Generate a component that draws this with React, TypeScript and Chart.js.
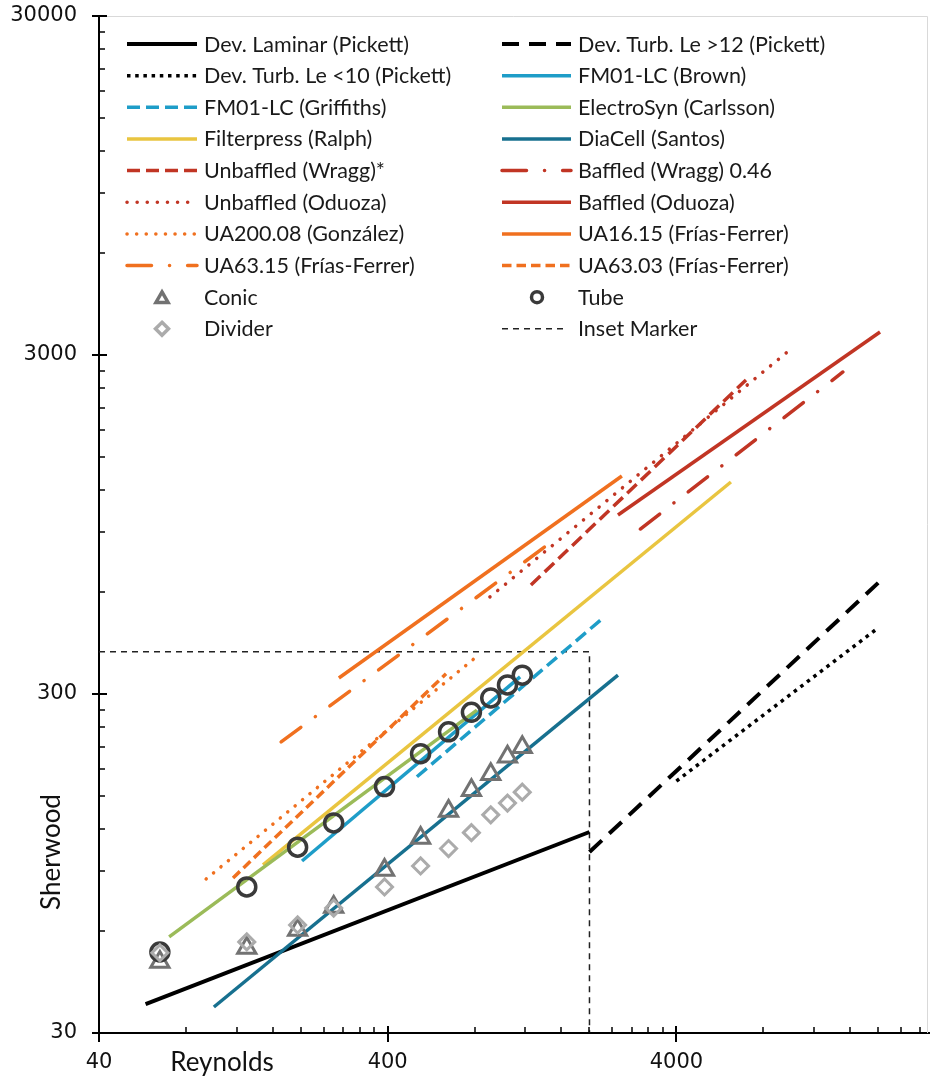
import React, { useEffect, useRef } from 'react';
import { Chart, registerables } from 'chart.js';

Chart.register(...registerables);

// ---------- axis ticks ----------
const xTickValues = [40, 400, 4000];
const yTickValues = [30, 300, 3000, 30000];
const xMin = 40;
const xMax = 30000;
const yMin = 30;
const yMax = 30000;

// ---------- correlation lines (Reynolds, Sherwood) ----------
const reDevLaminar = [58, 2000];
const shDevLaminar = [36.5, 117.5];
const reDevTurbLe12 = [2000, 20000];
const shDevTurbLe12 = [102.6, 638];
const reDevTurbLe10 = [4000, 20000];
const shDevTurbLe10 = [166, 470];
const reFm01Brown = [202, 1150];
const shFm01Brown = [96.5, 337];
const reFm01Griffiths = [505, 2230];
const shFm01Griffiths = [171, 503];
const reElectroSyn = [70, 815];
const shElectroSyn = [57.6, 269];
const reFilterpress = [148, 6180];
const shFilterpress = [94, 1266];
const reDiaCell = [100, 2510];
const shDiaCell = [35.8, 341];
const reUnbaffledWragg = [1254, 6970];
const shUnbaffledWragg = [629, 2532];
const reBaffledWragg = [3000, 15100];
const shBaffledWragg = [920, 2673];
const reUnbaffledOduoza = [904, 9980];
const shUnbaffledOduoza = [580, 3126];
const reBaffledOduoza = [2510, 20300];
const shBaffledOduoza = [1012, 3507];
const reUA200_08 = [94, 802];
const shUA200_08 = [85.4, 383];
const reUA16_15 = [271, 2590];
const shUA16_15 = [334.5, 1319];
const reUA63_15 = [171, 1414];
const shUA63_15 = [216.6, 820];
const reUA63_03 = [116.5, 637];
const shUA63_03 = [86, 344];

// ---------- measured points ----------
const markerRe = [65, 130, 195, 260, 390, 520, 650, 780, 910, 1040, 1170];
const conicSh = [48.6, 53.4, 60.4, 70.6, 90.7, 112.8, 135.5, 156, 174, 196, 209];
const tubeSh = [52, 80.9, 106, 125, 160, 200, 232, 265, 292, 319, 341];
const dividerSh = [51.7, 55.7, 62.5, 70.1, 80.9, 93.3, 105, 117, 132, 143, 154];

// ---------- inset marker ----------
const insetRe = [40, 2000, 2000];
const insetSh = [400, 400, 30];

// ---------- colours ----------
const BLACK = '#000000';
const LIGHT_BLUE = '#1e9dc8';
const GREEN = '#9bbb59';
const YELLOW = '#e9c540';
const TEAL = '#17708f';
const RED = '#c13524';
const ORANGE = '#f0701f';
const CONIC = '#727272';
const TUBE = '#3a3a3a';
const DIVIDER = '#ababab';

const FONT = 'Lato, "Noto Sans", sans-serif';
const TICK_FONT = '"DejaVu Sans", sans-serif';

const pts = (re: number[], sh: number[]) => re.map((x, i) => ({ x, y: sh[i] }));

function lineDs(label: string, re: number[], sh: number[], color: string, width: number, dash: number[], cap: string, order: number) {
  return {
    label,
    data: pts(re, sh),
    showLine: true,
    borderColor: color,
    backgroundColor: color,
    borderWidth: width,
    borderDash: dash,
    borderCapStyle: cap,
    pointRadius: 0,
    pointHoverRadius: 0,
    order,
  };
}

function markerDs(label: string, sh: number[], color: string, style: string, radius: number, width: number, order: number, legendRadius: number) {
  return {
    label,
    data: pts(markerRe, sh),
    showLine: false,
    pointStyle: style,
    pointRadius: radius,
    pointHoverRadius: radius,
    pointBorderWidth: width,
    pointBorderColor: color,
    pointBackgroundColor: 'rgba(0,0,0,0)',
    borderColor: color,
    backgroundColor: 'rgba(0,0,0,0)',
    legendRadius,
    order,
  };
}

const DASH_DOT = [24.5, 18, 0.1, 18];

// datasets in legend (row-major, 2 columns) order
const datasets: any[] = [
  lineDs('Dev. Laminar (Pickett)', reDevLaminar, shDevLaminar, BLACK, 4, [], 'butt', 20),
  lineDs('Dev. Turb. Le >12 (Pickett)', reDevTurbLe12, shDevTurbLe12, BLACK, 4, [17, 10], 'butt', 20),
  lineDs('Dev. Turb. Le <10 (Pickett)', reDevTurbLe10, shDevTurbLe10, BLACK, 3.5, [3.5, 4.7], 'butt', 20),
  lineDs('FM01-LC (Brown)', reFm01Brown, shFm01Brown, LIGHT_BLUE, 3.5, [], 'butt', 12),
  lineDs('FM01-LC (Griffiths)', reFm01Griffiths, shFm01Griffiths, LIGHT_BLUE, 3.5, [13, 6], 'butt', 12),
  lineDs('ElectroSyn (Carlsson)', reElectroSyn, shElectroSyn, GREEN, 3.5, [], 'butt', 11),
  lineDs('Filterpress (Ralph)', reFilterpress, shFilterpress, YELLOW, 3.5, [], 'butt', 13),
  lineDs('DiaCell (Santos)', reDiaCell, shDiaCell, TEAL, 3.5, [], 'butt', 14),
  lineDs('Unbaffled (Wragg)*', reUnbaffledWragg, shUnbaffledWragg, RED, 3.5, [13, 6], 'butt', 15),
  lineDs('Baffled (Wragg) 0.46', reBaffledWragg, shBaffledWragg, RED, 3.5, DASH_DOT, 'round', 15),
  lineDs('Unbaffled (Oduoza)', reUnbaffledOduoza, shUnbaffledOduoza, RED, 3.5, [0.1, 10], 'round', 15),
  lineDs('Baffled (Oduoza)', reBaffledOduoza, shBaffledOduoza, RED, 3.5, [], 'butt', 15),
  lineDs('UA200.08 (González)', reUA200_08, shUA200_08, ORANGE, 3.5, [0.1, 9.5], 'round', 16),
  lineDs('UA16.15 (Frías-Ferrer)', reUA16_15, shUA16_15, ORANGE, 3.5, [], 'butt', 16),
  lineDs('UA63.15 (Frías-Ferrer)', reUA63_15, shUA63_15, ORANGE, 3.5, DASH_DOT, 'round', 16),
  lineDs('UA63.03 (Frías-Ferrer)', reUA63_03, shUA63_03, ORANGE, 3.5, [9.5, 5], 'butt', 16),
  markerDs('Conic', conicSh, CONIC, 'triangle', 10.5, 3, 3, 7),
  markerDs('Tube', tubeSh, TUBE, 'circle', 9, 3.5, 2, 5.5),
  markerDs('Divider', dividerSh, DIVIDER, 'rectRot', 8, 3, 1, 6.5),
  lineDs('Inset Marker', insetRe, insetSh, '#222222', 1.5, [6, 5], 'butt', 30),
];

// legend layout
const legendCols = [
  { x0: 127, x1: 197, tx: 204, mx: 162 },
  { x0: 502, x1: 571, tx: 578, mx: 537 },
];
const legendRow0 = 44;
const legendRowGap = 31.65;

function drawLegendMarker(ctx: CanvasRenderingContext2D, ds: any, cx: number, cy: number) {
  const r = ds.legendRadius;
  ctx.save();
  ctx.strokeStyle = ds.pointBorderColor;
  ctx.lineWidth = 3.5;
  ctx.beginPath();
  if (ds.pointStyle === 'circle') {
    ctx.arc(cx, cy, r, 0, Math.PI * 2);
  } else if (ds.pointStyle === 'triangle') {
    const c = cy + r / 4;
    const s = Math.sin(Math.PI / 3) * r;
    ctx.moveTo(cx, c - r);
    ctx.lineTo(cx + s, c + r / 2);
    ctx.lineTo(cx - s, c + r / 2);
    ctx.closePath();
  } else {
    ctx.moveTo(cx, cy - r);
    ctx.lineTo(cx + r, cy);
    ctx.lineTo(cx, cy + r);
    ctx.lineTo(cx - r, cy);
    ctx.closePath();
  }
  ctx.stroke();
  ctx.restore();
}

const decorPlugin = {
  id: 'decor',
  beforeDatasetsDraw(chart: any) {
    const { ctx, chartArea: a } = chart;
    ctx.save();
    ctx.strokeStyle = '#d9d9d9';
    ctx.lineWidth = 1;
    ctx.beginPath();
    ctx.moveTo(a.left, a.top + 0.5);
    ctx.lineTo(a.right - 1.5, a.top + 0.5);
    ctx.lineTo(a.right - 1.5, a.bottom);
    ctx.stroke();
    ctx.restore();
  },
  afterDraw(chart: any) {
    const { ctx, chartArea: a } = chart;
    const xs = chart.scales.x;
    const ys = chart.scales.y;
    ctx.save();
    ctx.strokeStyle = '#000';
    // x ticks
    xTickValues.forEach((base) => {
      const px = Math.round(xs.getPixelForValue(base));
      ctx.lineWidth = 2;
      ctx.beginPath();
      ctx.moveTo(px, a.bottom - 7);
      ctx.lineTo(px, a.bottom + 9);
      ctx.stroke();
      for (let k = 2; k <= 9; k++) {
        const v = base * k;
        if (v > xMax) break;
        const p = Math.round(xs.getPixelForValue(v));
        ctx.lineWidth = 1.5;
        ctx.beginPath();
        ctx.moveTo(p, a.bottom);
        ctx.lineTo(p, a.bottom - 6);
        ctx.stroke();
      }
    });
    // y ticks
    yTickValues.forEach((base) => {
      const py = Math.round(ys.getPixelForValue(base));
      ctx.lineWidth = 2;
      ctx.beginPath();
      ctx.moveTo(a.left - 7, py);
      ctx.lineTo(a.left + 8, py);
      ctx.stroke();
      for (let k = 2; k <= 9; k++) {
        const v = base * k;
        if (v > yMax) break;
        const p = Math.round(ys.getPixelForValue(v));
        ctx.lineWidth = 1.5;
        ctx.beginPath();
        ctx.moveTo(a.left, p);
        ctx.lineTo(a.left + 6, p);
        ctx.stroke();
      }
    });
    // axis titles
    ctx.fillStyle = '#111';
    ctx.font = `26px ${FONT}`;
    ctx.textAlign = 'center';
    ctx.textBaseline = 'alphabetic';
    ctx.fillText('Reynolds', 222, 1071);
    ctx.save();
    ctx.translate(60, 852);
    ctx.rotate(-Math.PI / 2);
    ctx.fillText('Sherwood', 0, 0);
    ctx.restore();

    // legend
    ctx.font = `21.5px ${FONT}`;
    ctx.textAlign = 'left';
    chart.data.datasets.forEach((ds: any, i: number) => {
      const col = legendCols[i % 2];
      const y = legendRow0 + Math.floor(i / 2) * legendRowGap;
      if (ds.showLine) {
        ctx.save();
        ctx.strokeStyle = ds.borderColor;
        ctx.lineWidth = ds.borderWidth;
        ctx.setLineDash(ds.borderDash || []);
        ctx.lineCap = ds.borderCapStyle || 'butt';
        ctx.beginPath();
        const x1 = ds.label === 'Inset Marker' ? col.x1 - 4 : col.x1;
        ctx.moveTo(col.x0, y);
        ctx.lineTo(x1, y);
        ctx.stroke();
        ctx.restore();
      } else {
        drawLegendMarker(ctx, ds, col.mx, y);
      }
      ctx.fillStyle = '#1a1a1a';
      ctx.fillText(ds.label, col.tx, y + 7.5);
    });
    ctx.restore();
  },
};

const zeroPadding = (s: any) => {
  s.paddingTop = 0;
  s.paddingBottom = 0;
  s.paddingLeft = 0;
  s.paddingRight = 0;
};

export default function App() {
  const ref = useRef<HTMLCanvasElement>(null);
  useEffect(() => {
    const canvas = ref.current;
    if (!canvas) return;
    const chart = new Chart(canvas, {
      type: 'scatter',
      data: { datasets },
      options: {
        animation: false,
        responsive: false,
        devicePixelRatio: 1,
        layout: { autoPadding: false, padding: { top: 16, right: 1, left: 0, bottom: 0 } },
        plugins: {
          legend: { display: false },
          tooltip: { enabled: false },
        },
        scales: {
          x: {
            type: 'logarithmic',
            position: 'bottom',
            min: xMin,
            max: xMax,
            afterFit: (s: any) => {
              s.height = 46;
              zeroPadding(s);
            },
            afterBuildTicks: (s: any) => {
              s.ticks = xTickValues.map((v) => ({ value: v }));
            },
            ticks: {
              autoSkip: false,
              maxRotation: 0,
              padding: 17,
              color: '#111',
              font: { family: TICK_FONT, size: 21 },
              callback: (v: any) => String(v),
            },
            grid: { display: false, drawTicks: false },
            border: { display: true, color: '#000', width: 2 },
          },
          y: {
            type: 'logarithmic',
            position: 'left',
            min: yMin,
            max: yMax,
            afterFit: (s: any) => {
              s.width = 99;
              zeroPadding(s);
            },
            afterBuildTicks: (s: any) => {
              s.ticks = yTickValues.map((v) => ({ value: v }));
            },
            ticks: {
              autoSkip: false,
              padding: 22,
              color: '#111',
              font: { family: TICK_FONT, size: 21 },
              callback: (v: any) => String(v),
            },
            grid: { display: false, drawTicks: false },
            border: { display: true, color: '#000', width: 2 },
          },
        },
      } as any,
      plugins: [decorPlugin],
    });
    return () => chart.destroy();
  }, []);
  return (
    <div style={{ position: 'absolute', left: 0, top: 0, width: 930, height: 1079, background: '#fff' }}>
      <canvas ref={ref} width={930} height={1079} style={{ display: 'block', width: 930, height: 1079 }} />
    </div>
  );
}
